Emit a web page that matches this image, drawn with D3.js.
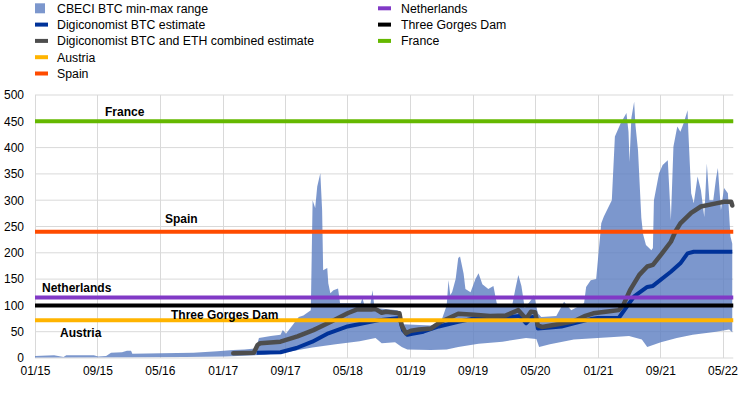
<!DOCTYPE html>
<html><head><meta charset="utf-8">
<script src="https://cdn.jsdelivr.net/npm/d3@7"></script>
<style>body{margin:0;background:#fff}svg{display:block;font-family:"Liberation Sans",Arial,sans-serif}</style>
</head><body><svg id="c" width="743" height="395"></svg>
<script>
// ---- data ----
const tickLabels = ["01/15","09/15","05/16","01/17","09/17","05/18","01/19","09/19","05/20","01/21","09/21","05/22"];
const yTicks = [0,50,100,150,200,250,300,350,400,450,500];

const cbeciMaxDates = ["2015-01-01","2015-03-16","2015-04-22","2015-05-03","2015-08-18","2015-09-04","2015-10-05","2015-10-24","2015-12-06","2015-12-25","2016-01-10","2016-01-15","2016-05-08","2016-09-09","2016-12-11","2017-02-11","2017-03-26","2017-05-07",
"2017-05-13","2017-05-22","2017-07-07","2017-08-14","2017-08-23","2017-09-04","2017-09-29","2017-10-24","2017-11-11","2017-12-10","2017-12-17","2017-12-27","2018-01-04","2018-01-16","2018-01-23","2018-01-27","2018-02-12","2018-02-16","2018-02-24","2018-03-08","2018-03-26","2018-04-03","2018-06-22","2018-06-29","2018-07-07","2018-07-30","2018-08-07","2018-08-15","2018-09-07","2018-11-13",
"2018-11-24","2018-12-04","2019-03-22","2019-04-29","2019-05-23","2019-05-30","2019-06-06","2019-06-13","2019-06-27","2019-07-07","2019-07-14","2019-07-28","2019-08-04","2019-08-24","2019-09-12","2019-09-24","2019-10-09","2019-11-01","2019-11-21","2019-12-04","2019-12-17","2020-02-02","2020-02-14","2020-02-26","2020-03-09","2020-03-22","2020-04-15","2020-04-27","2020-05-12","2020-05-25","2020-07-23","2020-08-22","2020-09-19","2020-11-08","2020-11-16","2020-12-04","2020-12-25",
"2021-01-14","2021-01-24","2021-02-24","2021-03-08","2021-03-31","2021-04-22","2021-04-30","2021-05-04","2021-05-11","2021-05-22","2021-05-27","2021-06-06","2021-06-19","2021-06-26","2021-07-07","2021-07-28","2021-08-03","2021-08-07","2021-08-27","2021-09-10","2021-09-30","2021-10-08","2021-10-12","2021-10-22","2021-11-06","2021-11-18","2021-12-01","2021-12-16","2021-12-19","2021-12-30","2022-01-09","2022-01-24","2022-02-06","2022-02-19","2022-03-01","2022-03-11","2022-03-26","2022-04-06","2022-04-13","2022-04-25","2022-05-07","2022-05-22","2022-06-01","2022-06-08"];
const cbeciMax = [4,5,2,5,5,3,4,10,11,14,14,8,9,10,13,15,16,18,
22,38,42,44,53,46,62,78,81,91,300,285,326,351,281,167,171,142,123,129,132,104,104,114,100,102,129,96,94,91,
70,64,62,66,100,148,120,125,150,190,193,160,131,125,150,161,140,131,137,104,98,100,130,158,137,95,110,120,85,78,80,107,91,104,135,148,150,
256,269,300,421,447,466,430,373,456,487,443,395,266,235,215,205,209,300,351,367,376,300,262,402,440,430,447,471,430,313,294,345,319,268,370,300,300,342,361,281,323,313,231,217];

const cbeciMinDates = ["2015-01-01","2016-01-06","2016-08-09","2017-01-11","2017-06-13","2017-09-14","2017-12-16","2018-03-17","2018-06-18","2018-08-19","2018-09-12","2018-11-03","2018-11-29","2018-12-21","2019-03-22","2019-05-23","2019-07-07","2019-09-24","2019-12-26","2020-03-27","2020-05-06","2020-05-17","2020-06-28","2020-09-29","2020-12-31","2021-03-04","2021-05-02","2021-06-21","2021-07-12","2021-09-03","2021-11-04","2022-01-05","2022-04-06","2022-05-27","2022-06-08"];
const cbeciMin = [1,1.5,2,3,6,12,20,26,32,38,28,30,21,16,15,16,21,27,31,38,36,21,26,35,38,40,42,35,21,30,38,44,50,54,49];

const btcDates = ["2017-05-13","2017-08-14","2017-10-15","2017-12-16","2018-02-16","2018-05-02","2018-07-02","2018-09-02","2018-11-20","2018-12-04","2018-12-21","2019-01-09","2019-02-21","2019-04-22","2019-07-07","2019-09-07","2019-11-08","2020-01-26","2020-03-02","2020-03-27","2020-04-20","2020-05-06","2020-05-12","2020-06-28","2020-08-12","2020-09-29","2020-12-04","2020-12-31","2021-03-23","2021-05-22","2021-07-12","2021-08-03","2021-10-12","2021-11-18","2021-12-16","2022-01-09","2022-06-08"];
const btcEstimate = [10,11,19,31,47,60,66,72,76,53,44,46,50,60,69,75,75,78,80,66,78,76,56,58,60,66,74,76,76,117,135,137,164,180,199,202,202];

const combinedDates = ["2017-02-11","2017-05-02","2017-05-17","2017-05-27","2017-08-14","2017-10-19","2017-12-20","2018-02-26","2018-05-02","2018-06-06","2018-08-02","2018-08-19","2018-09-12","2018-09-29","2018-11-20","2018-11-29","2018-12-15","2019-01-04","2019-02-04","2019-03-22","2019-05-01","2019-07-07","2019-09-07","2019-11-08","2020-01-09","2020-02-26","2020-03-17","2020-03-27","2020-04-15","2020-05-01","2020-05-12","2020-05-28","2020-07-29","2020-09-29","2020-11-13","2020-12-14","2021-01-31","2021-03-23","2021-04-10","2021-05-06","2021-06-11","2021-07-12","2021-08-03","2021-09-03","2021-10-12","2021-10-29","2021-11-18","2021-12-30","2022-02-06","2022-04-06","2022-05-07","2022-06-04","2022-06-08"];
const combinedEstimate = [9,10,25,28,31,41,53,69,85,92,92,93,86,88,85,62,47,52,54,56,69,84,82,80,81,91,80,74,88,87,62,59,64,70,80,85,88,91,101,129,158,174,177,196,221,240,256,276,288,294,297,297,290];

const refNames = ["Austria","Spain","Netherlands","Three Gorges Dam","France"];
const refValues = [72,240,115,100,450];
const refColors = ["#ffb400","#ff4b00","#8139c6","#000000","#65b800"];

// ---- chart ----
const svg = d3.select("#c");
const parse = d3.timeParse("%Y-%m-%d");
const x = d3.scaleTime().domain([new Date(2015,0,1), new Date(2022,4,1)]).range([35,722.5]);
const y = d3.scaleLinear().domain([0,500]).range([358,95]);
const tickDates = tickLabels.map((t,i)=>new Date(2015, i*8, 1));
const xEnd = x(parse(cbeciMaxDates[cbeciMaxDates.length-1])) + 1;

// gridlines
const g = svg.append("g");
g.selectAll("line.h").data(yTicks).join("line")
  .attr("x1",35).attr("x2",xEnd).attr("y1",d=>y(d)).attr("y2",d=>y(d))
  .attr("stroke","#d9d9d9").attr("stroke-width",1);
g.selectAll("line.v").data(tickDates).join("line")
  .attr("x1",d=>Math.round(x(d))+0.5).attr("x2",d=>Math.round(x(d))+0.5).attr("y1",95).attr("y2",358)
  .attr("stroke","#d9d9d9").attr("stroke-width",1);

// axes labels
const yAxis = d3.axisLeft(y).tickValues(yTicks).tickSize(0).tickPadding(0);
svg.append("g").attr("transform","translate(24,0)").call(yAxis)
  .call(s=>s.select(".domain").remove())
  .selectAll("text").attr("font-size",12).attr("fill","#000").attr("font-family","Liberation Sans, Arial, sans-serif");
const xAxis = d3.axisBottom(x).tickValues(tickDates).tickSize(0).tickPadding(0).tickFormat((d,i)=>tickLabels[i]);
svg.append("g").attr("transform","translate(0,366)").call(xAxis)
  .call(s=>s.select(".domain").remove())
  .selectAll("text").attr("font-size",12).attr("fill","#000").attr("font-family","Liberation Sans, Arial, sans-serif");

// CBECI area (polygon of max then reversed min)
const maxPts = cbeciMaxDates.map((d,i)=>[parse(d),cbeciMax[i]]);
const minPts = cbeciMinDates.map((d,i)=>[parse(d),cbeciMin[i]]).reverse();
const poly = d3.line().x(d=>x(d[0])).y(d=>y(d[1]));
svg.append("path").attr("d", poly(maxPts.concat(minPts))+"Z")
  .attr("fill","rgb(91,125,193)").attr("fill-opacity",0.8);

// series lines
const ln = d3.line().x(d=>x(d[0])).y(d=>y(d[1]));
svg.append("path").attr("d", ln(btcDates.map((d,i)=>[parse(d),btcEstimate[i]])))
  .attr("fill","none").attr("stroke","#003299").attr("stroke-width",4).attr("stroke-linejoin","round");
svg.append("path").attr("d", ln(combinedDates.map((d,i)=>[parse(d),combinedEstimate[i]])))
  .attr("fill","none").attr("stroke","#4d4d4d").attr("stroke-width",4.5).attr("stroke-linejoin","round").attr("stroke-linecap","round");

// reference lines
svg.selectAll("line.ref").data(refValues).join("line")
  .attr("x1",35).attr("x2",xEnd).attr("y1",d=>y(d)).attr("y2",d=>y(d))
  .attr("stroke",(d,i)=>refColors[i]).attr("stroke-width",4);

// reference labels
const labelX = {"Austria":60,"Spain":165,"Netherlands":42,"Three Gorges Dam":171,"France":105};
const labelDy = {"Austria":16.5,"Spain":-9,"Netherlands":-6,"Three Gorges Dam":14,"France":-5};
svg.selectAll("text.ref").data(refNames).join("text")
  .attr("x",d=>labelX[d]).attr("y",(d,i)=>y(refValues[i])+labelDy[d])
  .attr("font-size",12).attr("font-weight","bold").attr("fill","#000").text(d=>d);

// legend
const legend1 = [
  {name:"CBECI BTC min-max range", type:"rect", color:"rgb(124,151,205)"},
  {name:"Digiconomist BTC estimate", type:"line", color:"#003299"},
  {name:"Digiconomist BTC and ETH combined estimate", type:"line", color:"#4d4d4d"},
  {name:"Austria", type:"line", color:refColors[0]},
  {name:"Spain", type:"line", color:refColors[1]}
];
const legend2 = [
  {name:"Netherlands", type:"line", color:refColors[2]},
  {name:"Three Gorges Dam", type:"line", color:refColors[3]},
  {name:"France", type:"line", color:refColors[4]}
];
function drawLegend(items, sx, tx){
  items.forEach((it,i)=>{
    const cy = 8.3 + i*16.3;
    if(it.type==="rect") svg.append("rect").attr("x",sx).attr("y",cy-5).attr("width",10).attr("height",10).attr("fill",it.color);
    else svg.append("rect").attr("x",sx).attr("y",cy-2).attr("width",13).attr("height",4).attr("fill",it.color);
    svg.append("text").attr("x",tx).attr("y",cy+4.3).attr("font-size",12.3).attr("fill","#000").text(it.name);
  });
}
drawLegend(legend1,35,57);
drawLegend(legend2,378,401);
</script></body></html>
